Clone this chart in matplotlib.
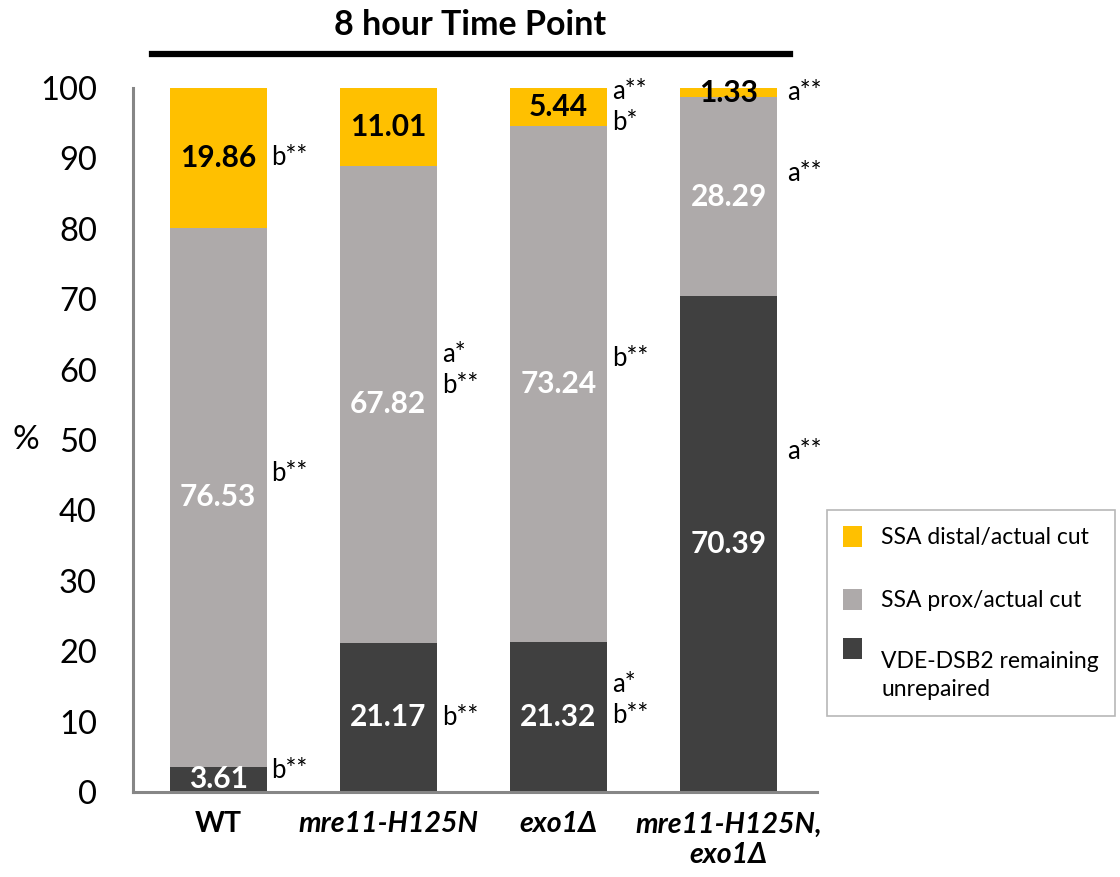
import matplotlib
matplotlib.use("Agg")
import matplotlib.pyplot as plt
import numpy as np

plt.rcParams['font.family'] = ['Lato', 'DejaVu Sans']

# Data: percentage of each outcome at the 8 hour time point
strains = ["WT", "mre11-H125N", "exo1\u0394", "mre11-H125N,\nexo1\u0394"]
unrepaired = [3.61, 21.17, 21.32, 70.39]       # VDE-DSB2 remaining unrepaired
ssa_prox = [76.53, 67.82, 73.24, 28.29]        # SSA prox/actual cut
ssa_distal = [19.86, 11.01, 5.44, 1.33]        # SSA distal/actual cut

series_labels = ["VDE-DSB2 remaining\nunrepaired", "SSA prox/actual cut",
                 "SSA distal/actual cut"]
yticks = [0, 10, 20, 30, 40, 50, 60, 70, 80, 90, 100]

# Significance marks: (bar index, text)
sig_bar = [0, 0, 0, 1, 1, 2, 2, 2, 3, 3, 3]
sig_text = ["b**", "b**", "b**", "a*\nb**", "b**", "a**\nb*", "b**",
            "a*\nb**", "a**", "a**", "a**"]
# vertical placement of each mark (axis units) and horizontal offset (points)
sig_place_y = [90.1, 45.3, 3.1, 60.0, 10.6, 97.3, 61.6, 13.1, 99.3, 87.9, 48.3]
sig_place_dx = [3, 3, 3, 4, 4, 4, 4, 4, 7, 7, 7]

colors = ["#404040", "#AEAAAA", "#FFC000"]
label_colors = ["white", "white", "black"]

W, H = 1120, 877
fig = plt.figure(figsize=(W / 100, H / 100), dpi=100)
ax = fig.add_axes([133 / W, 85 / H, (817 - 133) / W, (792 - 88) / H])

x = np.arange(len(strains))
bar_w = 0.57
bottom = np.zeros(len(strains))
stack = [unrepaired, ssa_prox, ssa_distal]
containers = []
for vals, col, lab, tcol in zip(stack, colors, series_labels, label_colors):
    vals = np.array(vals)
    bc = ax.bar(x, vals, bar_w, bottom=bottom, color=col, label=lab,
                edgecolor="none", zorder=2)
    containers.append(bc)
    ax.bar_label(bc, labels=[f"{v:.2f}" for v in vals], label_type="center",
                 color=tcol, fontsize=21.5, fontweight="bold")
    bottom = bottom + vals

# significance marks beside the bars
for i, txt, yv, dx in zip(sig_bar, sig_text, sig_place_y, sig_place_dx):
    ax.annotate(txt, xy=(x[i] + bar_w / 2, yv), xytext=(dx, 0),
                textcoords="offset points", ha="left", va="center",
                fontsize=18.5, color="black", linespacing=1.3)

ax.set_xlim(-0.5, 3.52)
ax.set_ylim(0, 100)
ax.set_yticks(yticks)
ax.set_yticklabels([str(t) for t in yticks], fontsize=23.5)
ax.tick_params(axis="y", length=0, pad=26)
ax.set_xticks(x)
ax.set_xticklabels(strains, fontsize=20.5, fontweight="bold", linespacing=1.2)
for k, t in enumerate(ax.get_xticklabels()):
    if k > 0:
        t.set_fontstyle("italic")
ax.tick_params(axis="x", length=0, pad=14)

for s in ["top", "right"]:
    ax.spines[s].set_visible(False)
for s in ["left", "bottom"]:
    ax.spines[s].set_color("#868686")
    ax.spines[s].set_linewidth(2.2)

fig.text(26 / W, 1 - 440 / H, "%", fontsize=24, ha="center", va="center")

# heading with rule underneath
fig.text(470 / W, 1 - 25 / H, "8 hour Time Point", fontsize=24.5,
         fontweight="bold", ha="center", va="center")
fig.add_artist(plt.Line2D([152 / W, 790 / W], [1 - 54 / H, 1 - 54 / H],
                          color="black", linewidth=4.5,
                          transform=fig.transFigure))

# legend, top-most series first
handles = [containers[2], containers[1], containers[0]]
labels = [series_labels[2], series_labels[1], series_labels[0]]
leg = fig.legend(handles, labels, loc="upper left",
                 bbox_to_anchor=(827 / W, 1 - 510 / H), borderaxespad=0,
                 fontsize=16.5, frameon=True, fancybox=False,
                 edgecolor="#A6A6A6", handlelength=0.83, handleheight=1.05,
                 handletextpad=0.83, borderpad=0.7, labelspacing=1.75)
leg.get_frame().set_linewidth(1.2)
for t in leg.get_texts():
    t.set_linespacing(1.42)

# keep the third swatch level with the first line of its two-line label
fig.canvas.draw()
r = fig.canvas.get_renderer()
h1 = leg.get_texts()[0].get_window_extent(r).height
h3 = leg.get_texts()[2].get_window_extent(r).height
shift_pt = (h3 - h1) * 72 / fig.dpi
sw = leg.legend_handles[2]
sw.set_y(sw.get_y() + shift_pt)

fig.savefig("out.png", dpi=100)
